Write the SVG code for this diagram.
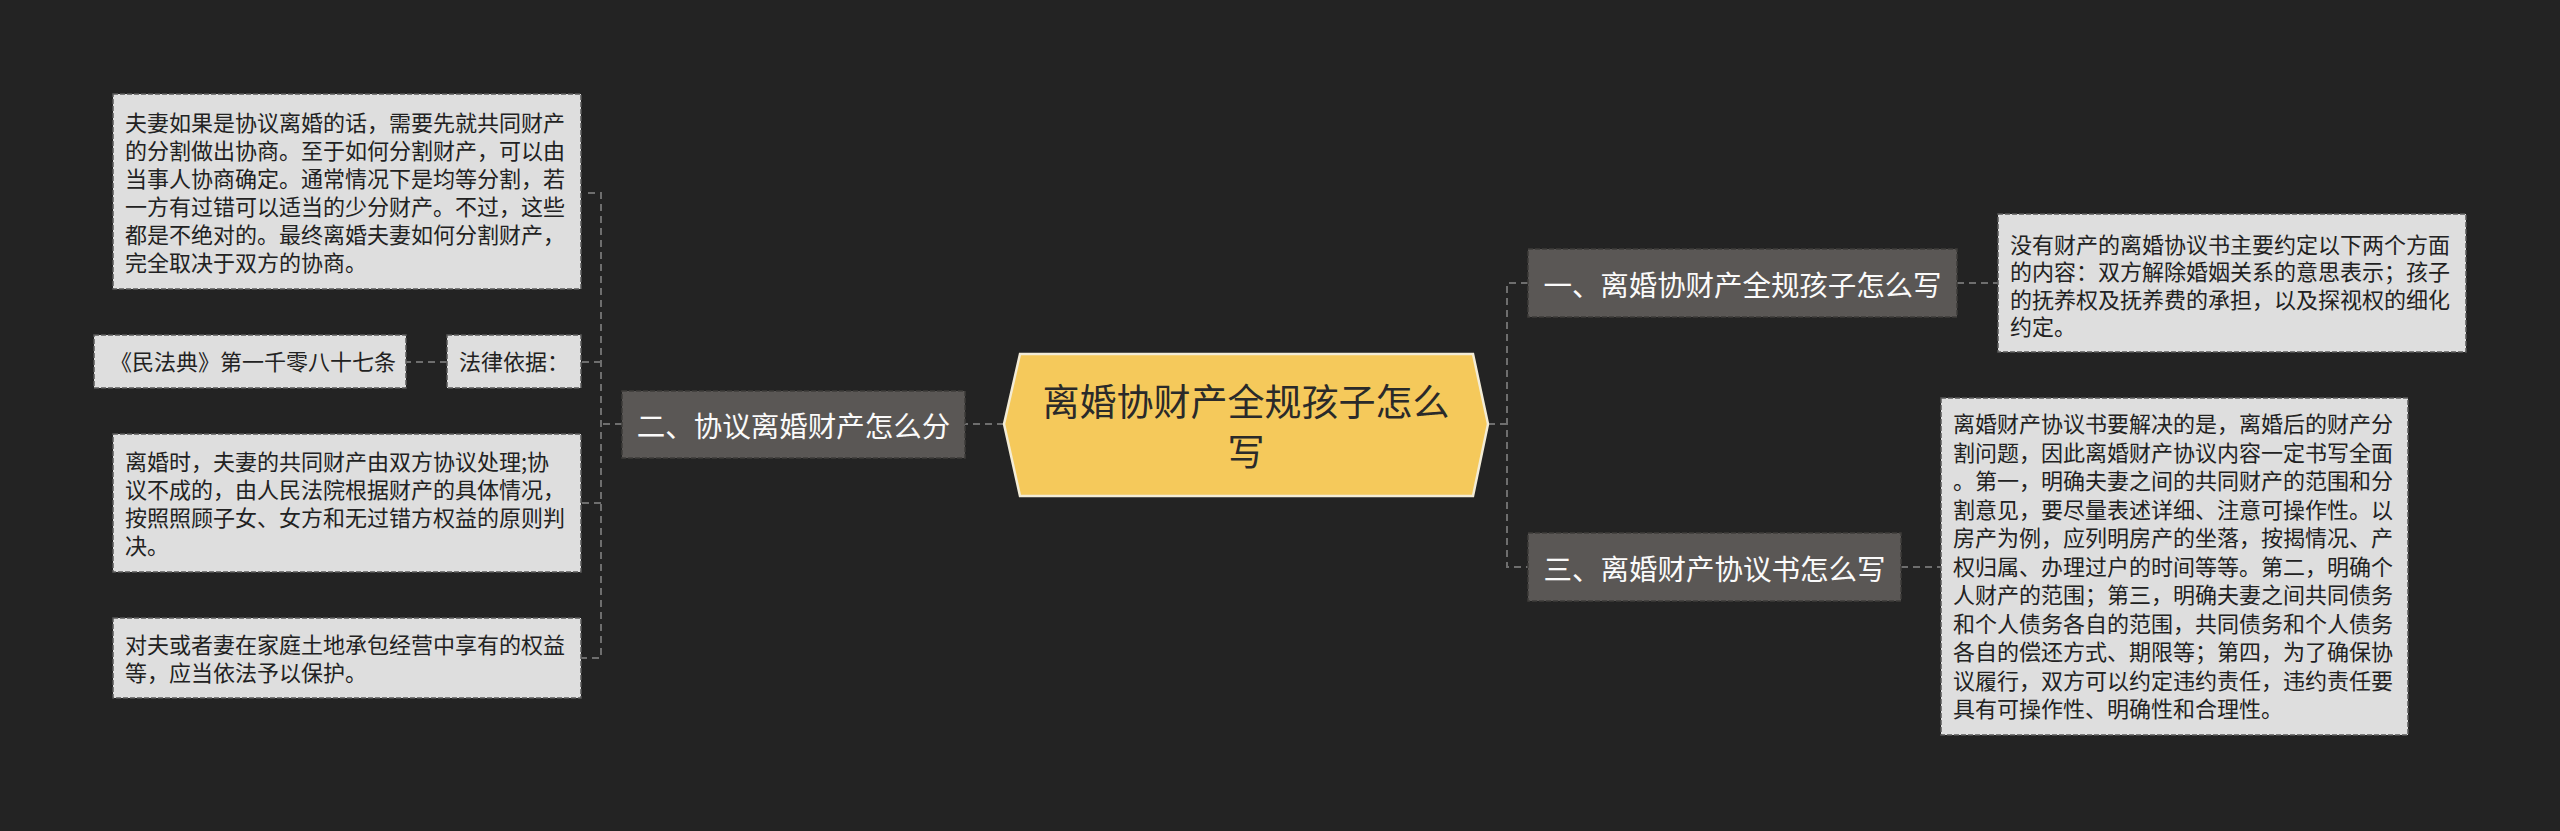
<svg xmlns="http://www.w3.org/2000/svg" width="2560" height="831" viewBox="0 0 2560 831">
<style>
.leaf{fill:#dedede;stroke:#5a5a5a;stroke-width:1.5;stroke-dasharray:5 2}
.branch{fill:#5a5755;stroke:#3e3c3a;stroke-width:1.5;stroke-dasharray:5 2}
.lt{font-family:"Noto Sans CJK SC","Noto Sans",sans-serif;font-size:22px;fill:#222}
.bt{font-family:"Noto Sans CJK SC","Noto Sans",sans-serif;font-size:28.5px;fill:#fafafa;text-anchor:middle;dominant-baseline:central}
.ct{font-family:"Noto Sans CJK SC","Noto Sans",sans-serif;font-size:37px;fill:#2a2a2a;text-anchor:middle;dominant-baseline:central}
.conn{fill:none;stroke:#6e6e6e;stroke-width:2;stroke-dasharray:7 5}
</style>
<rect width="2560" height="831" fill="#232323"/>
<g id="connectors">
<path class="conn" d="M1004 424 H965"/>
<path class="conn" d="M622 424 H601"/>
<path class="conn" d="M588 193 H601 V658 H581"/>
<path class="conn" d="M601 362 H581"/>
<path class="conn" d="M601 503 H581"/>
<path class="conn" d="M447 362 H406"/>
<path class="conn" d="M1488 424 H1507"/>
<path class="conn" d="M1528 283 H1507 V567 H1528"/>
<path class="conn" d="M1957 283 H1998"/>
<path class="conn" d="M1901 567 H1941"/>
</g>
<g id="center">
<polygon points="1004,424 1020,354 1473,354 1488,424 1473,496 1020,496" fill="#f5c95b" stroke="#f3ecd6" stroke-width="2.5"/>
<text class="ct" x="1246" y="400">离婚协财产全规孩子怎么</text>
<text class="ct" x="1246" y="450">写</text>
</g>
<g id="branch2">
<rect class="branch" x="622" y="391" width="343" height="67"/>
<text class="bt" x="793.5" y="424.5">二、协议离婚财产怎么分</text>
</g>
<g id="leaf-l1">
<rect class="leaf" x="113" y="94" width="468" height="195"/>
<text class="lt" x="125"><tspan x="125" y="131">夫妻如果是协议离婚的话，需要先就共同财产</tspan><tspan x="125" y="159">的分割做出协商。至于如何分割财产，可以由</tspan><tspan x="125" y="187">当事人协商确定。通常情况下是均等分割，若</tspan><tspan x="125" y="215">一方有过错可以适当的少分财产。不过，这些</tspan><tspan x="125" y="243">都是不绝对的。最终离婚夫妻如何分割财产，</tspan><tspan x="125" y="271">完全取决于双方的协商。</tspan></text>
</g>
<g id="leaf-l2">
<rect class="leaf" x="447" y="335" width="134" height="53"/>
<text class="lt" x="459" y="370">法律依据：</text>
</g>
<g id="leaf-l2a">
<rect class="leaf" x="94" y="335" width="312" height="53"/>
<text class="lt" x="110" y="370">《民法典》第一千零八十七条</text>
</g>
<g id="leaf-l3">
<rect class="leaf" x="113" y="434" width="468" height="138"/>
<text class="lt"><tspan x="125" y="470">离婚时，夫妻的共同财产由双方协议处理;协</tspan><tspan x="125" y="498">议不成的，由人民法院根据财产的具体情况，</tspan><tspan x="125" y="526">按照照顾子女、女方和无过错方权益的原则判</tspan><tspan x="125" y="554">决。</tspan></text>
</g>
<g id="leaf-l4">
<rect class="leaf" x="113" y="618" width="468" height="80"/>
<text class="lt"><tspan x="125" y="653">对夫或者妻在家庭土地承包经营中享有的权益</tspan><tspan x="125" y="681">等，应当依法予以保护。</tspan></text>
</g>
<g id="branch1">
<rect class="branch" x="1528" y="249" width="429" height="68"/>
<text class="bt" x="1742.5" y="283" textLength="398" lengthAdjust="spacing">一、离婚协财产全规孩子怎么写</text>
</g>
<g id="branch3">
<rect class="branch" x="1528" y="533" width="373" height="68"/>
<text class="bt" x="1714.5" y="567">三、离婚财产协议书怎么写</text>
</g>
<g id="leaf-r1">
<rect class="leaf" x="1998" y="214" width="468" height="138"/>
<text class="lt"><tspan x="2010" y="253">没有财产的离婚协议书主要约定以下两个方面</tspan><tspan x="2010" y="280">的内容：双方解除婚姻关系的意思表示；孩子</tspan><tspan x="2010" y="308">的抚养权及抚养费的承担，以及探视权的细化</tspan><tspan x="2010" y="335">约定。</tspan></text>
</g>
<g id="leaf-r3">
<rect class="leaf" x="1941" y="398" width="467" height="337"/>
<text class="lt"><tspan x="1953" y="432">离婚财产协议书要解决的是，离婚后的财产分</tspan><tspan x="1953" y="460.5">割问题，因此离婚财产协议内容一定书写全面</tspan><tspan x="1953" y="489">。第一，明确夫妻之间的共同财产的范围和分</tspan><tspan x="1953" y="517.5">割意见，要尽量表述详细、注意可操作性。以</tspan><tspan x="1953" y="546">房产为例，应列明房产的坐落，按揭情况、产</tspan><tspan x="1953" y="574.5">权归属、办理过户的时间等等。第二，明确个</tspan><tspan x="1953" y="603">人财产的范围；第三，明确夫妻之间共同债务</tspan><tspan x="1953" y="631.5">和个人债务各自的范围，共同债务和个人债务</tspan><tspan x="1953" y="660">各自的偿还方式、期限等；第四，为了确保协</tspan><tspan x="1953" y="688.5">议履行，双方可以约定违约责任，违约责任要</tspan><tspan x="1953" y="717">具有可操作性、明确性和合理性。</tspan></text>
</g>
</svg>
